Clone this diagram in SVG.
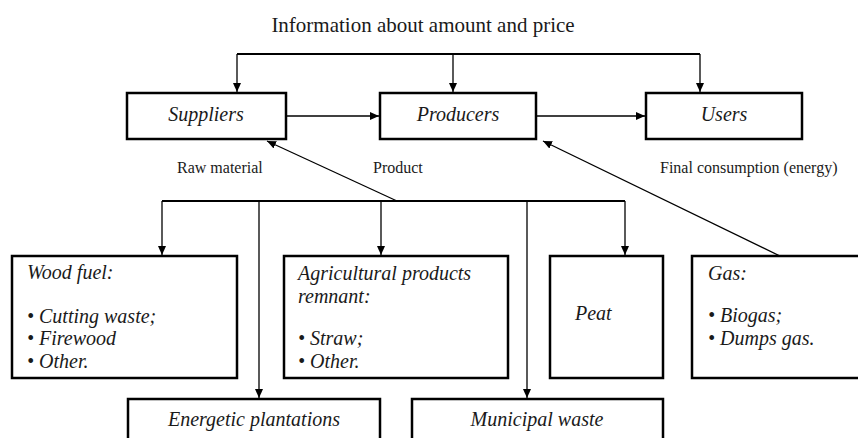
<svg xmlns="http://www.w3.org/2000/svg" width="858" height="438" viewBox="0 0 858 438">
<style>
.box{fill:#fff;stroke:#000;stroke-width:2.5}
.ln{fill:none;stroke:#000;stroke-width:1.3}
.th{fill:none;stroke:#000;stroke-width:2}
.it{font-family:"Liberation Serif","Times New Roman",serif;font-style:italic;font-size:20px;fill:#1a1a1a}
.rg{font-family:"Liberation Serif","Times New Roman",serif;font-size:16px;fill:#1a1a1a}
.ti{font-family:"Liberation Serif","Times New Roman",serif;font-size:21px;fill:#1a1a1a}
</style>
<defs>
<marker id="ah" markerUnits="userSpaceOnUse" markerWidth="10" markerHeight="9" refX="9" refY="4" orient="auto" viewBox="0 0 10 9">
<path d="M0,0 L9,4 L0,8 z" fill="#000"/>
</marker>
</defs>
<rect width="858" height="438" fill="#fff"/>
<text class="ti" x="423" y="32" text-anchor="middle">Information about amount and price</text>
<g id="connectors">
<path class="th" d="M237,54 H700"/>
<path class="ln" d="M237,54 V92" marker-end="url(#ah)"/>
<path class="ln" d="M453,54 V92" marker-end="url(#ah)"/>
<path class="ln" d="M700,54 V92" marker-end="url(#ah)"/>
<path class="ln" d="M286,116 H379" marker-end="url(#ah)"/>
<path class="ln" d="M536,116 H645" marker-end="url(#ah)"/>
<path class="th" d="M162,201 H625"/>
<path class="ln" d="M162,201 V255" marker-end="url(#ah)"/>
<path class="ln" d="M259,201 V398" marker-end="url(#ah)"/>
<path class="ln" d="M381,201 V255" marker-end="url(#ah)"/>
<path class="ln" d="M527,201 V398" marker-end="url(#ah)"/>
<path class="ln" d="M625,201 V255" marker-end="url(#ah)"/>
<path class="ln" d="M397,201 L267,141" marker-end="url(#ah)"/>
<path class="ln" d="M780,256 L543,141" marker-end="url(#ah)"/>
</g>
<text class="rg" x="177" y="173">Raw material</text>
<text class="rg" x="373" y="173">Product</text>
<text class="rg" x="660" y="173">Final consumption (energy)</text>
<g id="suppliers">
<rect class="box" x="127" y="93" width="159" height="46"/>
<text class="it" x="206" y="121" text-anchor="middle">Suppliers</text>
</g>
<g id="producers">
<rect class="box" x="380" y="93" width="156" height="46"/>
<text class="it" x="458" y="121" text-anchor="middle">Producers</text>
</g>
<g id="users">
<rect class="box" x="646" y="93" width="156" height="46"/>
<text class="it" x="724" y="121" text-anchor="middle">Users</text>
</g>
<g id="woodfuel">
<rect class="box" x="12" y="256" width="225" height="122"/>
<text class="it" x="27" y="279">Wood fuel:</text>
<text class="it" x="27" y="323">• Cutting waste;</text>
<text class="it" x="27" y="345">• Firewood</text>
<text class="it" x="27" y="368">• Other.</text>
</g>
<g id="agricultural">
<rect class="box" x="284" y="256" width="224" height="122"/>
<text class="it" x="298" y="280">Agricultural products</text>
<text class="it" x="298" y="303">remnant:</text>
<text class="it" x="298" y="345">• Straw;</text>
<text class="it" x="298" y="368">• Other.</text>
</g>
<g id="peat">
<rect class="box" x="550" y="256" width="113" height="122"/>
<text class="it" x="575" y="320">Peat</text>
</g>
<g id="gas">
<rect class="box" x="692" y="256" width="180" height="122"/>
<text class="it" x="708" y="280">Gas:</text>
<text class="it" x="708" y="322">• Biogas;</text>
<text class="it" x="708" y="345">• Dumps gas.</text>
</g>
<g id="energetic">
<rect class="box" x="128" y="399" width="252" height="60"/>
<text class="it" x="254" y="426" text-anchor="middle">Energetic plantations</text>
</g>
<g id="municipal">
<rect class="box" x="412" y="399" width="251" height="60"/>
<text class="it" x="537" y="426" text-anchor="middle">Municipal waste</text>
</g>
</svg>
